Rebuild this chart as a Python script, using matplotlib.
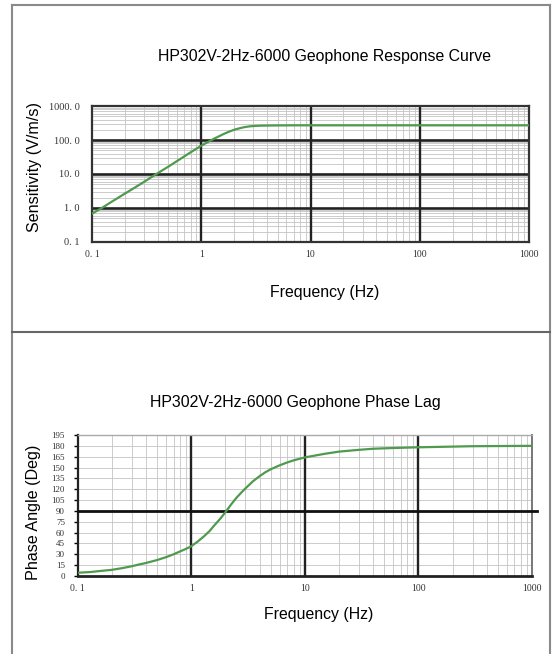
import numpy as np
import matplotlib.pyplot as plt
from matplotlib.ticker import FixedLocator, NullFormatter, LogLocator
from matplotlib.lines import Line2D

# Sensitivity curve
sens_freq = [0.1, 0.123, 0.15, 0.2, 0.25, 0.3, 0.35, 0.4, 0.5, 0.6, 0.7, 0.8, 0.9,
             1.0, 1.15, 1.3, 1.45, 1.6, 1.8, 2.0, 2.25, 2.5, 2.75, 3.0, 3.5,
             4.0, 5.0, 7.0, 10, 20, 50, 100, 1000]
sens_vals = [0.68, 1.0, 1.5, 2.65, 4.1, 5.9, 8.1, 10.6, 16.5, 24, 33, 43.5, 55,
             68, 87, 108, 128, 150, 176, 200, 222, 240, 251, 258, 264,
             266, 268, 270, 270, 270, 270, 270, 270]

# Phase curve
phase_freq = [0.1, 0.13, 0.16, 0.2, 0.25, 0.3, 0.35, 0.4, 0.5, 0.6, 0.7, 0.8, 0.9,
              1.0, 1.15, 1.3, 1.45, 1.6, 1.8, 2.0, 2.25, 2.5, 2.75, 3.0, 3.5,
              4.0, 4.5, 5.0, 6.0, 7.0, 8.0, 10, 15, 20, 30, 40, 60, 100, 300, 1000]
phase_vals = [4.5, 5.5, 7, 8.5, 11, 13.5, 16, 18, 22, 26, 30, 34, 37.5,
              41, 48, 55, 62, 70, 79, 88, 99, 108, 115, 121, 131,
              138, 143.5, 147.5, 153, 157, 160, 164, 169, 172, 174.5, 176, 177, 178, 179.5, 180]

x_ticks = [0.1, 1, 10, 100, 1000]
x_labels = ['0. 1', '1', '10', '100', '1000']
y_ticks_sens = [0.1, 1, 10, 100, 1000]
y_labels_sens = ['0. 1', '1. 0', '10. 0', '100. 0', '1000. 0']
y_ticks_phase = list(range(0, 196, 15))

SERIF = ['Liberation Serif', 'DejaVu Serif']
SANS = ['Liberation Sans', 'DejaVu Sans']
GREEN = '#4f9a4f'
DARK = '#222222'
LIGHT = '#c4c4c4'

W, H = 552, 654
fig = plt.figure(figsize=(W / 100, H / 100), dpi=100)


def box(l, t, r, b):
    return [l / W, 1 - b / H, (r - l) / W, (b - t) / H]


def style_log_x(ax):
    ax.set_xscale('log')
    ax.set_xlim(0.1, 1000)
    ax.xaxis.set_major_locator(FixedLocator(x_ticks))
    ax.set_xticklabels(x_labels, fontfamily=SERIF, fontsize=7, color='#333333')
    ax.xaxis.set_minor_locator(LogLocator(base=10, subs=np.arange(2, 10)))
    ax.xaxis.set_minor_formatter(NullFormatter())
    for xv in x_ticks[1:-1]:
        ax.axvline(xv, color=DARK, lw=1.7, zorder=2)


# ---- top: response curve
ax1 = fig.add_axes(box(92, 106, 529, 242))
ax1.plot(sens_freq, sens_vals, color=GREEN, lw=1.6, zorder=5)
style_log_x(ax1)
ax1.set_yscale('log')
ax1.set_ylim(0.1, 1000)
ax1.yaxis.set_major_locator(FixedLocator(y_ticks_sens))
ax1.set_yticklabels(y_labels_sens, fontfamily=SERIF, fontsize=7.5, color='#333333')
ax1.yaxis.set_minor_locator(LogLocator(base=10, subs=np.arange(2, 10)))
ax1.yaxis.set_minor_formatter(NullFormatter())
ax1.grid(which='minor', color=LIGHT, lw=0.6)
for yv in y_ticks_sens[1:-1]:
    ax1.axhline(yv, color=DARK, lw=1.9, zorder=2)
ax1.tick_params(axis='x', which='both', length=0, pad=6)
ax1.tick_params(axis='y', which='both', length=0, pad=9)
for s in ax1.spines.values():
    s.set_color('#333333')
    s.set_linewidth(1.6)
ax1.set_axisbelow(True)

fig.text(324 / W, 1 - 57 / H, 'HP302V-2Hz-6000 Geophone Response Curve',
         ha='center', va='center', fontfamily=SANS, fontsize=11.4)
fig.text(325 / W, 1 - 292 / H, 'Frequency (Hz)', ha='center', va='center',
         fontfamily=SANS, fontsize=11.4)
fig.text(34 / W, 1 - 167 / H, 'Sensitivity (V/m/s)', ha='center', va='center',
         rotation=90, fontfamily=SANS, fontsize=11.6)

# ---- bottom: phase lag
ax2 = fig.add_axes(box(77.5, 435, 532, 576))
ax2.plot(phase_freq, phase_vals, color=GREEN, lw=1.6, zorder=5)
style_log_x(ax2)
ax2.set_ylim(0, 195)
ax2.yaxis.set_major_locator(FixedLocator(y_ticks_phase))
ax2.set_yticklabels([str(v) for v in y_ticks_phase], fontfamily=SERIF,
                    fontsize=6.5, color='#333333')
ax2.grid(which='minor', axis='x', color=LIGHT, lw=0.6)
ax2.grid(which='major', axis='y', color=LIGHT, lw=0.6)
ax2.axhline(90, xmin=0, xmax=1.01, color='#111111', lw=2.0, clip_on=False, zorder=4)
ax2.tick_params(axis='x', which='both', length=0, pad=6)
ax2.tick_params(axis='y', which='major', length=3, width=1, direction='out', pad=6)
ax2.spines['left'].set_color(DARK)
ax2.spines['left'].set_linewidth(1.6)
ax2.spines['bottom'].set_color(DARK)
ax2.spines['bottom'].set_linewidth(2.0)
ax2.spines['top'].set_color('#aaaaaa')
ax2.spines['top'].set_linewidth(1.0)
ax2.spines['right'].set_color('#777777')
ax2.spines['right'].set_linewidth(1.4)
ax2.set_axisbelow(True)

fig.text(295 / W, 1 - 402 / H, 'HP302V-2Hz-6000 Geophone Phase Lag',
         ha='center', va='center', fontfamily=SANS, fontsize=11.4)
fig.text(319 / W, 1 - 615 / H, 'Frequency (Hz)', ha='center', va='center',
         fontfamily=SANS, fontsize=11.4)
fig.text(34 / W, 1 - 512 / H, 'Phase Angle (Deg)', ha='center', va='center',
         rotation=90, fontfamily=SANS, fontsize=11.6)

# page frame and divider
frame = '#8a8a8a'
fig.add_artist(Line2D([12 / W, 12 / W], [0, 1 - 5 / H], transform=fig.transFigure,
                      color=frame, lw=1.5))
fig.add_artist(Line2D([550 / W, 550 / W], [0, 1 - 5 / H], transform=fig.transFigure,
                      color=frame, lw=1.5))
fig.add_artist(Line2D([12 / W, 550 / W], [1 - 5 / H, 1 - 5 / H], transform=fig.transFigure,
                      color=frame, lw=1.5))
fig.add_artist(Line2D([12 / W, 550 / W], [1 - 332 / H, 1 - 332 / H], transform=fig.transFigure,
                      color='#666666', lw=1.5))

fig.savefig('out.png', dpi=100)
